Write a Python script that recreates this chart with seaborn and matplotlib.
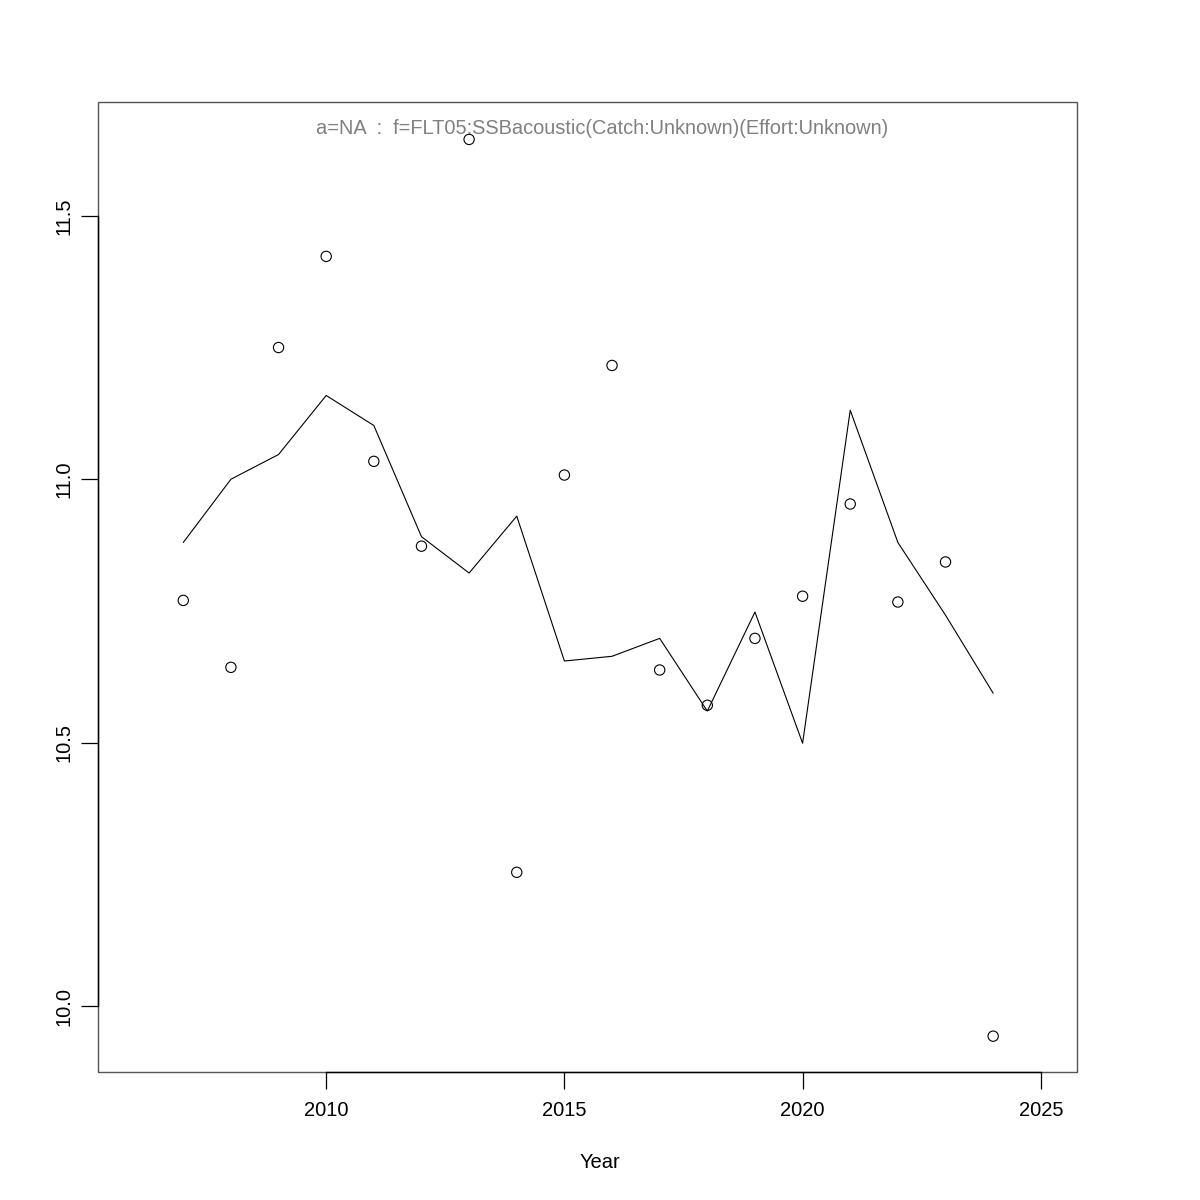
import matplotlib
matplotlib.use("Agg")
import matplotlib.pyplot as plt
import seaborn as sns
import pandas as pd
from matplotlib.patches import Rectangle

years = list(range(2007, 2025))
observed = [10.770, 10.643, 11.250, 11.423, 11.034, 10.873, 11.645, 10.254, 11.008,
            11.216, 10.638, 10.571, 10.698, 10.778, 10.953, 10.767, 10.843, 9.943]
fitted = [10.880, 11.000, 11.047, 11.159, 11.102, 10.891, 10.822, 10.930, 10.655,
          10.664, 10.698, 10.560, 10.748, 10.499, 11.131, 10.880, 10.742, 10.594]
x_ticks = [2010, 2015, 2020, 2025]
y_ticks = [10.0, 10.5, 11.0, 11.5]
title = "a=NA  :  f=FLT05:SSBacoustic(Catch:Unknown)(Effort:Unknown)"
xlabel = "Year"

df = pd.DataFrame({"year": years, "observed": observed, "fitted": fitted})

sns.set_style("white")
plt.rcParams["font.family"] = ["Liberation Sans", "DejaVu Sans"]

fig = plt.figure(figsize=(12, 12), dpi=100)
ax = fig.add_axes([98/1200, 1 - 1072/1200, (1077-98)/1200, (1072-102)/1200])

sns.lineplot(data=df, x="year", y="fitted", ax=ax, color="black", linewidth=0.8)
sns.scatterplot(data=df, x="year", y="observed", ax=ax, marker="o", s=55,
                facecolor="none", edgecolor="black", linewidth=0.8)

ax.set_xlim(2005.21, 2025.76)
ax.set_ylim(9.875, 11.716)

ax.set_xticks(x_ticks)
ax.set_xticklabels([str(t) for t in x_ticks])
ax.set_yticks(y_ticks)
ax.set_yticklabels([f"{t:.1f}" for t in y_ticks], rotation=90, va="center")
ax.tick_params(axis="both", direction="out", length=12, width=0.9, color="black",
               labelsize=14.5, labelcolor="black", left=True, bottom=True)
ax.tick_params(axis="x", pad=9)
ax.tick_params(axis="y", pad=5.5)

for side in ["top", "right"]:
    ax.spines[side].set_visible(False)
ax.spines["bottom"].set_bounds(x_ticks[0], x_ticks[-1])
ax.spines["left"].set_bounds(y_ticks[0], y_ticks[-1])
for side in ["bottom", "left"]:
    ax.spines[side].set_color("black")
    ax.spines[side].set_linewidth(1.0)
    ax.spines[side].set_zorder(5)

box = Rectangle((0, 0), 1, 1, transform=ax.transAxes, fill=False,
                edgecolor="#555555", linewidth=1.0, zorder=4, clip_on=False)
ax.add_patch(box)

ax.set_xlabel("")
ax.set_ylabel("")
fig.text(0.5015, 1 - 129/1200, title, ha="center", va="center",
         fontsize=14.4, color="#808080")
fig.text(0.5, 1 - 1162/1200, xlabel, ha="center", va="center",
         fontsize=14.5, color="black")

fig.savefig("out.png", dpi=100, facecolor="white")
